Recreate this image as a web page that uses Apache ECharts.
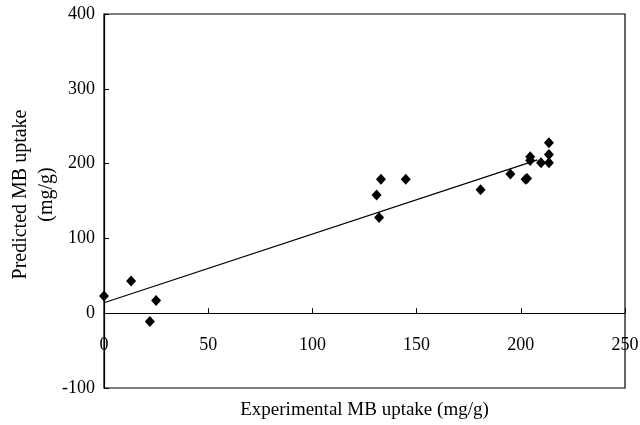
<!DOCTYPE html>
<html>
<head>
<meta charset="utf-8">
<script src="https://cdn.jsdelivr.net/npm/echarts@6/dist/echarts.min.js"></script>
<style>
  html, body { margin: 0; padding: 0; background: #fff; }
  #main { width: 640px; height: 425px; }
</style>
</head>
<body>
<div id="main"></div>
<script>
// experimental vs predicted uptake (mg/g)
var experimental = [0, 13, 22, 25, 130.8, 132, 132.9, 144.8, 180.7, 195, 202.3, 203, 204.5, 204.5, 209.7, 213.5, 213.5, 213.5];
var predicted = [23, 43, -11, 17, 158, 128, 179, 179, 165, 186, 179, 180, 209, 204, 201, 228, 212, 201];
// fitted line end points
var fitX = [0, 208];
var fitY = [14, 205];
var xTicks = [0, 50, 100, 150, 200, 250];
var yTicks = [-100, 0, 100, 200, 300, 400];

var chart = echarts.init(document.getElementById('main'), null, { renderer: 'canvas' });
var font = 'Liberation Serif';

var points = experimental.map(function (x, i) { return [x, predicted[i]]; });
var fit = fitX.map(function (x, i) { return [x, fitY[i]]; });

var option = {
  animation: false,
  backgroundColor: '#fff',
  grid: {
    left: 104,
    right: 15,
    top: 14,
    bottom: 37,
    containLabel: false,
    outerBoundsMode: 'none',
    show: true,
    borderColor: '#000',
    borderWidth: 1.2
  },
  xAxis: {
    type: 'value',
    min: xTicks[0],
    max: xTicks[xTicks.length - 1],
    interval: 50,
    name: 'Experimental MB uptake (mg/g)',
    nameLocation: 'middle',
    nameGap: 13,
    nameMoveOverlap: false,
    nameTextStyle: { fontFamily: font, fontSize: 19, color: '#000', verticalAlign: 'top' },
    axisLine: { onZero: true, lineStyle: { color: '#000', width: 1.2 } },
    axisTick: { inside: true, length: 5, lineStyle: { color: '#000' } },
    axisLabel: { inside: true, margin: 34, fontFamily: font, fontSize: 18, color: '#000' },
    splitLine: { show: false }
  },
  yAxis: {
    type: 'value',
    min: yTicks[0],
    max: yTicks[yTicks.length - 1],
    interval: 100,
    name: 'Predicted MB uptake\n(mg/g)',
    nameLocation: 'middle',
    nameRotate: 90,
    nameGap: 44,
    nameMoveOverlap: false,
    nameTextStyle: { fontFamily: font, fontSize: 20, color: '#000', lineHeight: 26, padding: [0, 0, 0, 13] },
    axisLine: { show: true, lineStyle: { color: '#000', width: 1.2 } },
    axisTick: { inside: true, length: 5, lineStyle: { color: '#000' } },
    axisLabel: { margin: 9, fontFamily: font, fontSize: 18, color: '#000' },
    splitLine: { show: false }
  },
  series: [
    {
      type: 'line',
      data: fit,
      symbol: 'none',
      lineStyle: { color: '#000', width: 1.2 },
      z: 1
    },
    {
      type: 'scatter',
      data: points,
      symbol: 'diamond',
      symbolSize: [10, 11],
      itemStyle: { color: '#000', opacity: 1 },
      z: 2
    }
  ]
};
chart.setOption(option);
</script>
</body>
</html>
